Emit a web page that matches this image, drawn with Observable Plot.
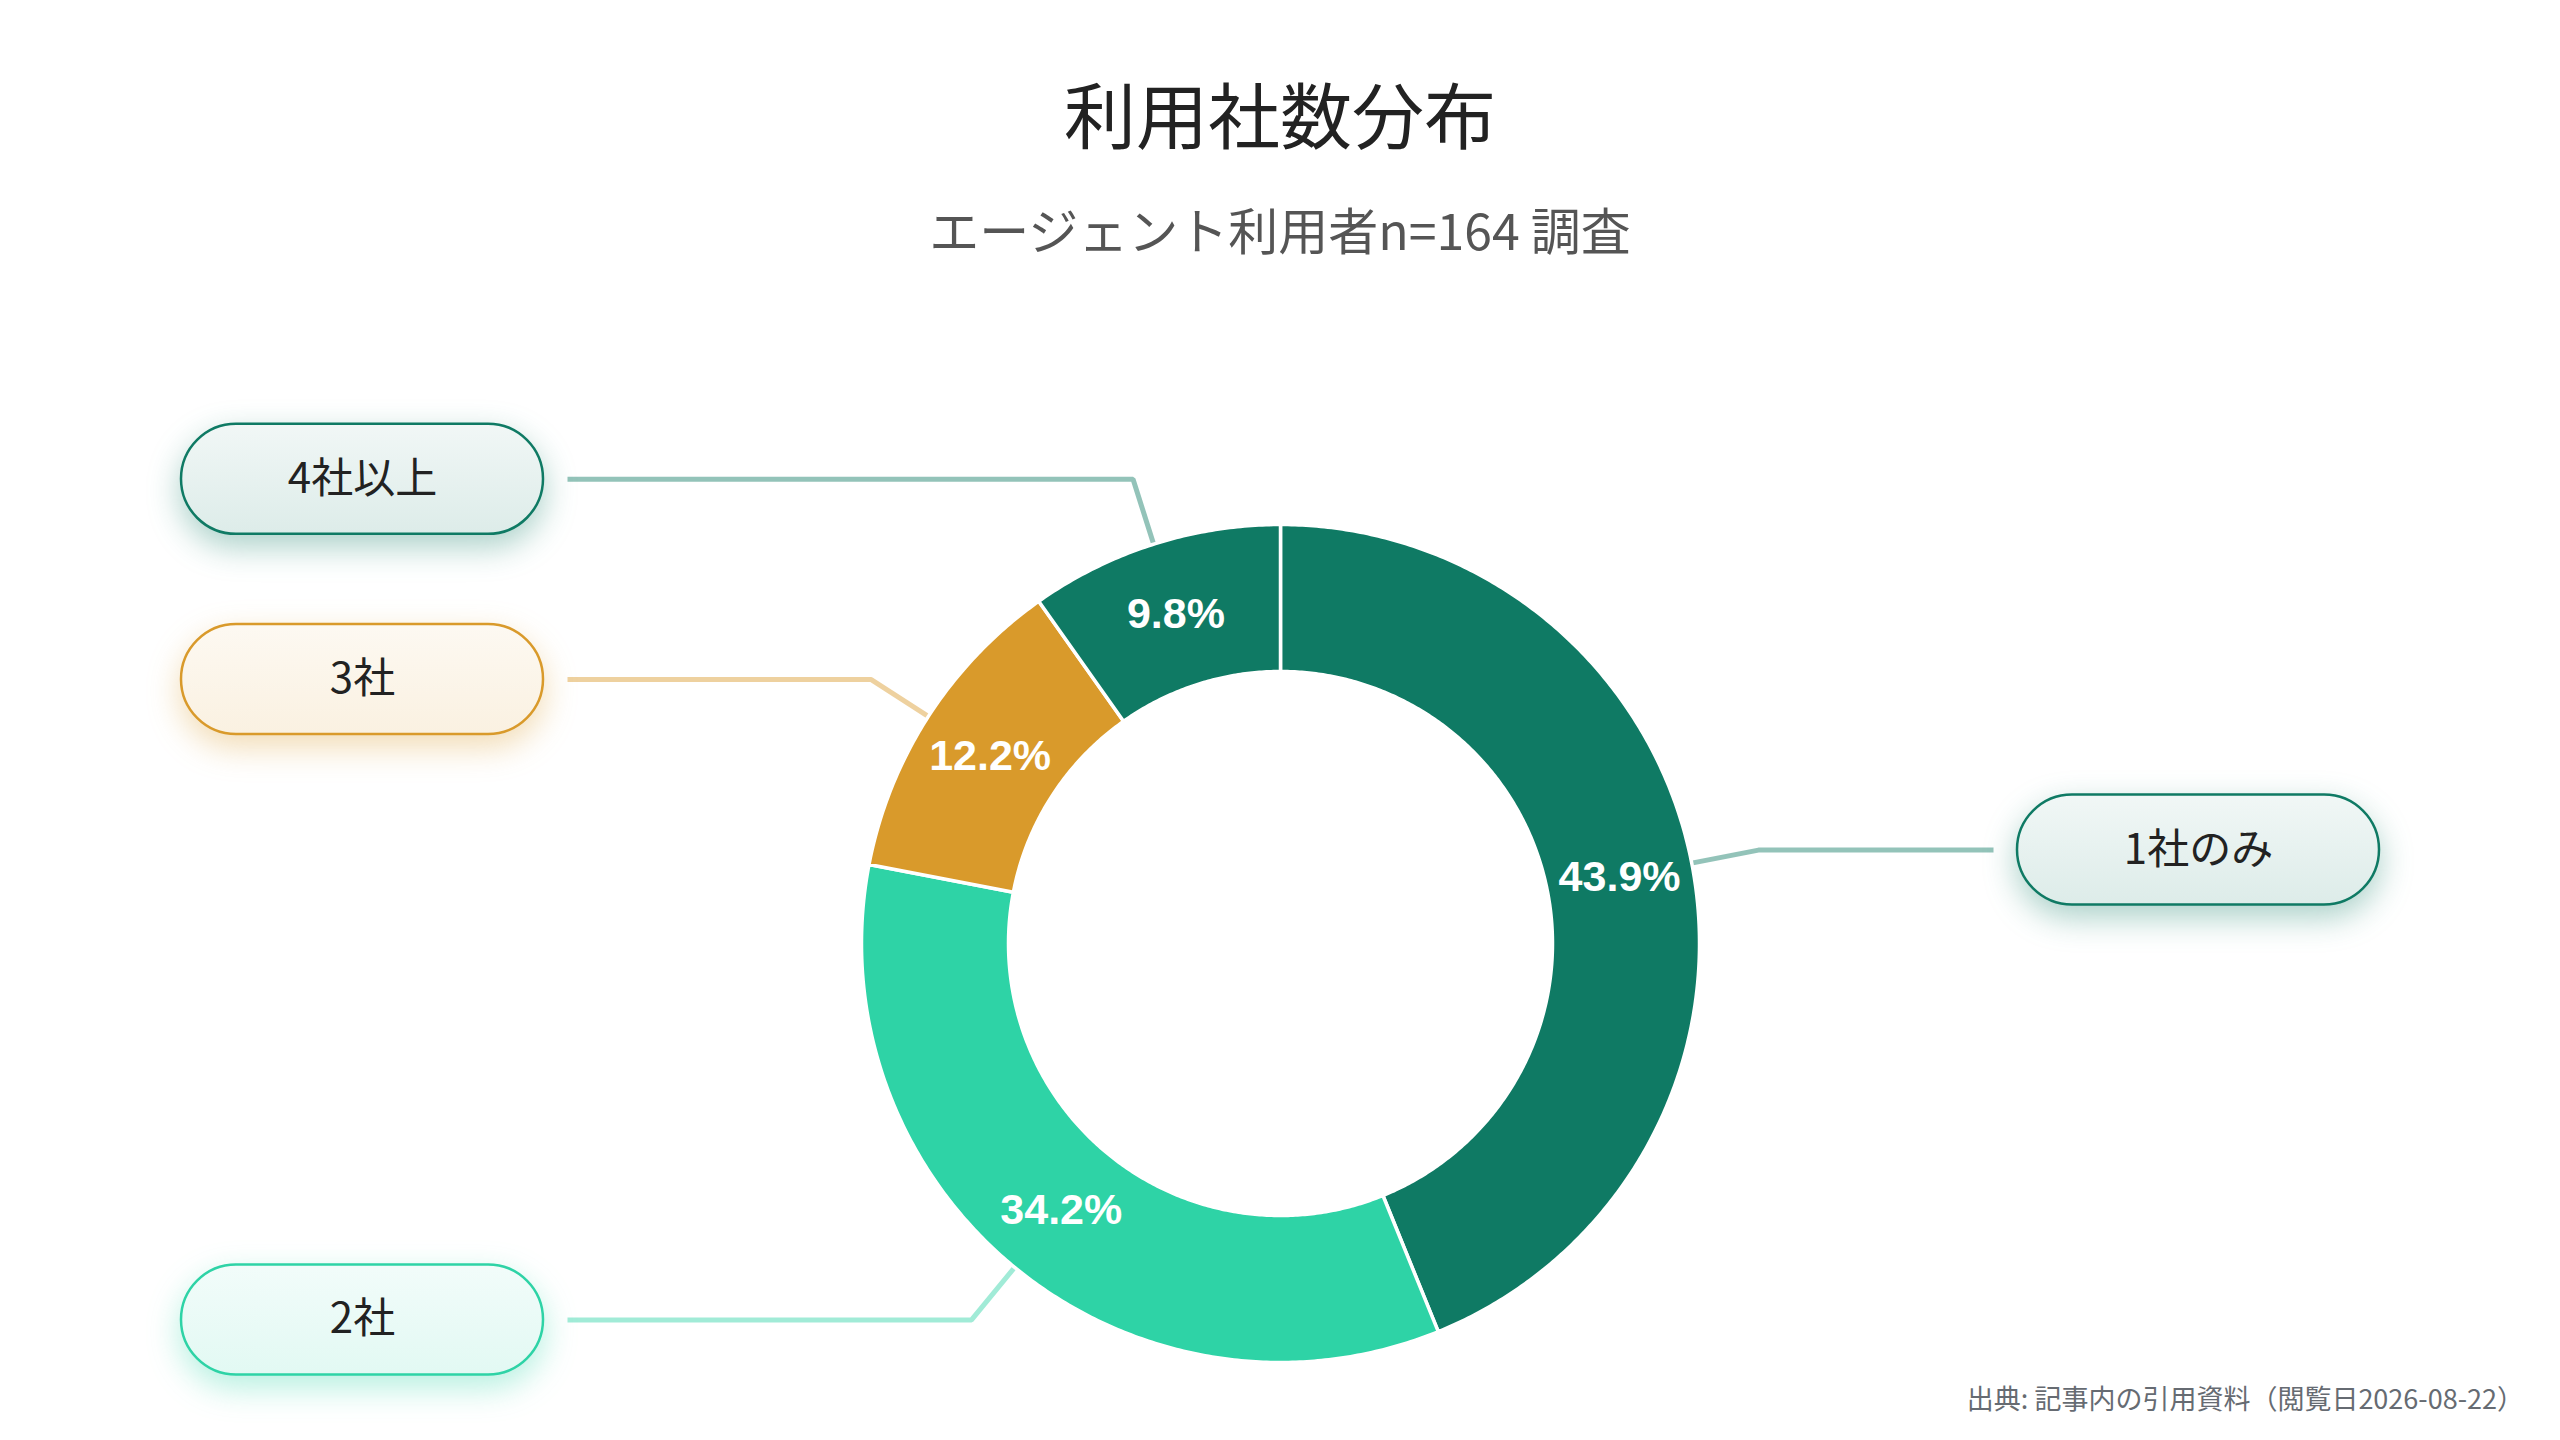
<!DOCTYPE html>
<html><head><meta charset="utf-8">
<script src="https://cdn.jsdelivr.net/npm/d3@7"></script>
<script src="https://cdn.jsdelivr.net/npm/@observablehq/plot@0.6"></script>
<style>
html,body{margin:0;padding:0;background:#fff;}
body{width:2560px;height:1440px;position:relative;overflow:hidden;font-family:"Noto Sans CJK JP","Noto Sans",sans-serif;}
#header{position:relative;height:300px;}
#title{position:absolute;left:0;right:0;top:76px;text-align:center;font-size:72px;line-height:1;color:#222;}
#subtitle{position:absolute;left:0;right:0;top:203px;text-align:center;font-size:50px;line-height:1;color:#555;}
#caption{position:absolute;right:36px;top:1384px;font-size:27px;line-height:1;color:#666b72;}
#chart svg{display:block;}
</style></head>
<body>
<div id="header"><div id="title"></div><div id="subtitle"></div></div>
<div id="chart"></div>
<div id="caption"></div>
<script>
// ---- data ----
const titleText = "利用社数分布";
const subtitleText = "エージェント利用者n=164 調査";
const captionText = "出典: 記事内の引用資料（閲覧日2026-08-22）";
const categories = ["1社のみ", "2社", "3社", "4社以上"];
const shares = [43.9, 34.2, 12.2, 9.8];
const sliceColors = ["#0f7a64", "#2ed3a6", "#d99a2b", "#0f7a64"];

document.getElementById("title").textContent = titleText;
document.getElementById("subtitle").textContent = subtitleText;
document.getElementById("caption").textContent = captionText;

// ---- layout ----
const W = 2560, H = 1140;
const cx = 1280, cy = 643;
const rOut = 419, rIn = 272, rElbow = 487;
const boxDX = 918, lineEndDX = 713, boxHW = 181, boxHH = 55;
const JP = '"Noto Sans CJK JP", "Noto Sans", sans-serif';

const total = d3.sum(shares);
let acc = 0;
const slices = categories.map((cat, i) => {
  const a0 = acc / total * 2 * Math.PI;
  acc += shares[i];
  const a1 = acc / total * 2 * Math.PI;
  return {cat, i, share: shares[i], a0, a1, mid: (a0 + a1) / 2};
});
const px = (r, a) => cx + r * Math.sin(a);
const py = (r, a) => cy - r * Math.cos(a);

// ring polygons
const ringPts = [];
for (const s of slices) {
  const n = Math.max(8, Math.ceil((s.a1 - s.a0) / (Math.PI / 360)));
  for (let k = 0; k <= n; k++) {
    const a = s.a0 + (s.a1 - s.a0) * k / n;
    ringPts.push({cat: s.cat, x: px(rOut, a), y: py(rOut, a)});
  }
  for (let k = n; k >= 0; k--) {
    const a = s.a0 + (s.a1 - s.a0) * k / n;
    ringPts.push({cat: s.cat, x: px(rIn, a), y: py(rIn, a)});
  }
}

// leader lines and boxes
const leaderPts = [];
const boxes = slices.map(s => {
  const side = Math.sin(s.mid) >= 0 ? 1 : -1;
  const ey = py(rElbow, s.mid);
  leaderPts.push({cat: s.cat, x: px(rOut - 4, s.mid), y: py(rOut - 4, s.mid)});
  leaderPts.push({cat: s.cat, x: px(rElbow, s.mid), y: ey});
  leaderPts.push({cat: s.cat, x: cx + side * lineEndDX, y: ey});
  return {cat: s.cat, i: s.i, x: cx + side * boxDX, y: ey};
});

const labels = slices.map(s => ({
  text: s.share.toFixed(1) + "%",
  x: px((rOut + rIn) / 2, s.mid),
  y: py((rOut + rIn) / 2, s.mid)
}));

const color = {type: "ordinal", domain: categories, range: sliceColors};

const marks = [
  Plot.line(leaderPts, {x: "x", y: "y", z: "cat", stroke: "cat", strokeOpacity: 0.45, strokeWidth: 5,
    strokeLinecap: "butt", strokeLinejoin: "miter", curve: "linear"}),
  Plot.line(ringPts, {x: "x", y: "y", z: "cat", fill: "cat", stroke: "white", strokeWidth: 3.5,
    strokeLinejoin: "round", curve: "linear-closed"}),
  Plot.text(labels, {x: "x", y: "y", text: "text", fill: "white", fontSize: 43, fontWeight: 700,
    fontFamily: '"Liberation Sans", Arial, sans-serif'}),
  ...boxes.map(b => Plot.rect([b], {
    x1: d => d.x - boxHW, x2: d => d.x + boxHW, y1: d => d.y - boxHH, y2: d => d.y + boxHH,
    rx: boxHH, fill: `url(#boxgrad-${b.i})`, stroke: sliceColors[b.i], strokeWidth: 2.5,
    ariaLabel: `box-${b.i}`
  })),
  Plot.text(boxes, {x: "x", y: "y", text: "cat", fill: "#222", fontSize: 42, fontFamily: JP})
];

const plot = Plot.plot({
  width: W, height: H,
  marginTop: 0, marginRight: 0, marginBottom: 0, marginLeft: 0,
  x: {type: "linear", domain: [0, W], range: [0, W], axis: null},
  y: {type: "linear", domain: [0, H], range: [0, H], axis: null},
  color,
  style: {background: "transparent", overflow: "visible"},
  marks
});

// gradients + soft colored shadows for the label boxes
const svg = d3.select(plot);
const defs = svg.insert("defs", ":first-child");
boxes.forEach(b => {
  const c = sliceColors[b.i];
  const g = defs.append("linearGradient").attr("id", `boxgrad-${b.i}`)
    .attr("x1", 0).attr("y1", 0).attr("x2", 0).attr("y2", 1);
  g.append("stop").attr("offset", "0%").attr("stop-color", d3.interpolateRgb("#fff", c)(0.06));
  g.append("stop").attr("offset", "100%").attr("stop-color", d3.interpolateRgb("#fff", c)(0.14));
  const f = defs.append("filter").attr("id", `boxshadow-${b.i}`)
    .attr("x", "-40%").attr("y", "-80%").attr("width", "180%").attr("height", "280%")
    .attr("color-interpolation-filters", "sRGB");
  f.append("feGaussianBlur").attr("in", "SourceAlpha").attr("stdDeviation", 16).attr("result", "blur");
  f.append("feOffset").attr("in", "blur").attr("dx", 0).attr("dy", 12).attr("result", "off");
  f.append("feFlood").attr("flood-color", c).attr("flood-opacity", 0.35).attr("result", "col");
  f.append("feComposite").attr("in", "col").attr("in2", "off").attr("operator", "in").attr("result", "shadow");
  const m = f.append("feMerge");
  m.append("feMergeNode").attr("in", "shadow");
  m.append("feMergeNode").attr("in", "SourceGraphic");
});
// attach the shadow to every element that carries a box gradient fill
svg.selectAll("*").each(function () {
  const fill = this.getAttribute && this.getAttribute("fill");
  if (fill && fill.startsWith("url(#boxgrad-")) {
    const idx = fill.match(/boxgrad-(\d+)/)[1];
    this.setAttribute("filter", `url(#boxshadow-${idx})`);
  }
});

document.getElementById("chart").appendChild(plot);
</script>
</body></html>
